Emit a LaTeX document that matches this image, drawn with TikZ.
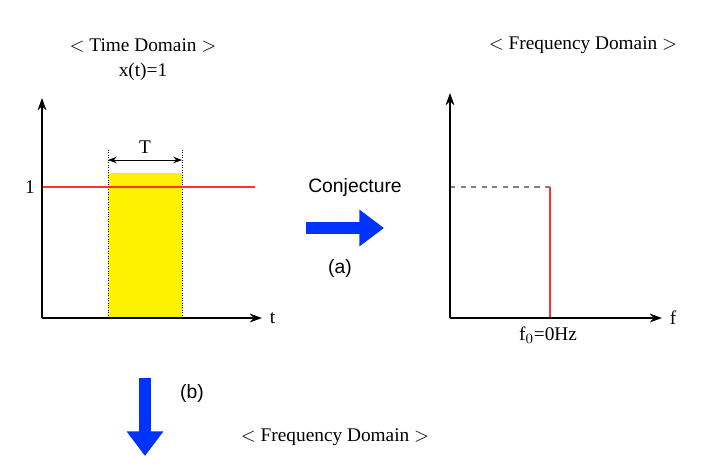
\documentclass[tikz,border=0pt]{standalone}
\usepackage{fontspec}
\setmainfont{Liberation Serif}
\setsansfont{Liberation Sans}
\usetikzlibrary{arrows.meta,positioning}
\begin{document}
\begin{tikzpicture}[x=0.02cm,y=-0.02cm,font=\fontsize{11}{13}\selectfont]
  \tikzstyle{axis}=[-{Stealth[length=7pt,width=5pt]}, thick]
  \tikzstyle{sig}=[draw=red!80, thick]
  \tikzstyle{bigarrow}=[-{Triangle[length=14pt,width=20pt]}, line width=7pt, blue!80!cyan]
  \useasboundingbox (0,0) rectangle (702,468);

  % time domain
  \node (ttitle) at (143,45) {$<$ Time Domain $>$};
  \node (xt) at (143,72) {x(t)=1};
  \fill[yellow] (108,173) rectangle (182,318);
  \draw[densely dotted] (108,150) -- (108,318);
  \draw[densely dotted] (182,150) -- (182,318);
  \coordinate (tl) at (108,160);
  \coordinate (tr) at (182,160);
  \draw[{Stealth[length=5pt]}-{Stealth[length=5pt]}] (tl) -- node[above] {T} (tr);
  \draw[sig] (42,187) -- (255,187);
  \node (one) at (30,187) {1};
  \coordinate (o1) at (42,318);
  \coordinate (y1) at (42,98);
  \coordinate (x1) at (262,318);
  \draw[axis] (o1) -- (y1);
  \draw[axis] (o1) -- (x1);
  \node[right=1pt of x1] (t) {t};

  % frequency domain
  \node (ftitle) at (583,45) {$<$ Frequency Domain $>$};
  \coordinate (o2) at (450,318);
  \coordinate (y2) at (450,93);
  \coordinate (x2) at (662,318);
  \draw[gray, dashed, thick] (450,187) -- (550,187);
  \draw[sig] (550,187) -- (550,318);
  \draw[axis] (o2) -- (y2);
  \draw[axis] (o2) -- (x2);
  \node[right=1pt of x2] (f) {f};
  \node (f0) at (548,335) {f$_0$=0Hz};

  % (a)
  \coordinate (a1) at (306,228);
  \coordinate (a2) at (384,228);
  \draw[bigarrow] (a1) -- (a2);
  \node[font=\sffamily\fontsize{11}{13}\selectfont] (conj) at (355,187) {Conjecture};
  \node[font=\sffamily\fontsize{11}{13}\selectfont] (a) at (340,268) {(a)};

  % (b)
  \coordinate (b1) at (145,378);
  \coordinate (b2) at (145,456);
  \draw[bigarrow] (b1) -- (b2);
  \node[font=\sffamily\fontsize{11}{13}\selectfont] (b) at (192,393) {(b)};
  \node (fbtitle) at (335,437) {$<$ Frequency Domain $>$};
\end{tikzpicture}
\end{document}
